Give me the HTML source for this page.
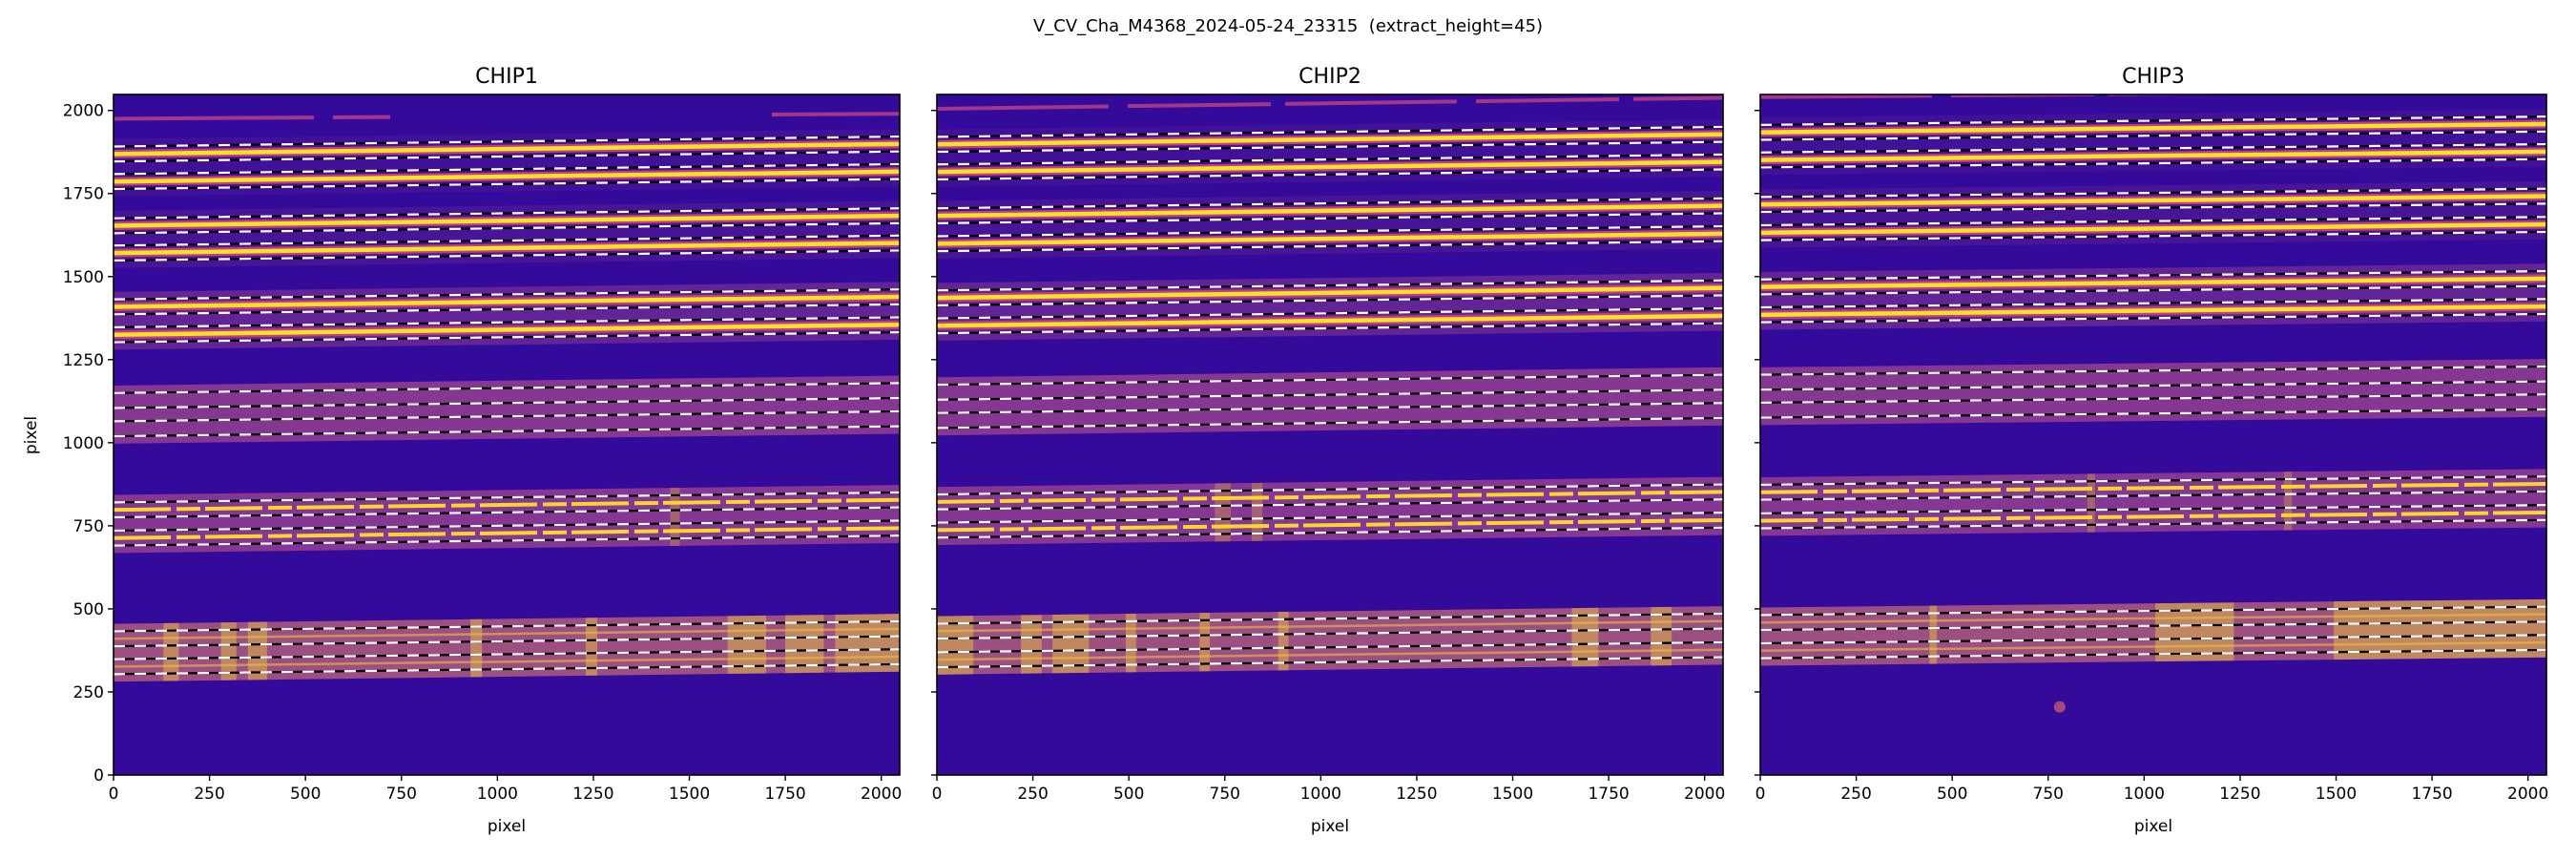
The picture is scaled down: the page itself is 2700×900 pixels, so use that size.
<!DOCTYPE html>
<html><head><meta charset="utf-8">
<style>
html,body{margin:0;padding:0;background:#fff;}
svg{display:block;font-family:"DejaVu Sans","Liberation Sans",sans-serif;}
</style></head>
<body>
<svg id="fig" width="2700" height="900" viewBox="0 0 2700 900" xmlns="http://www.w3.org/2000/svg">
<text x="1350" y="33" text-anchor="middle" font-size="18" xml:space="preserve">V_CV_Cha_M4368_2024-05-24_23315  (extract_height=45)</text>
<text x="0" y="0" transform="translate(38,456) rotate(-90)" text-anchor="middle" font-size="17">pixel</text>
<g id="chips"></g>
</svg>
<script>
// ---- data (pixel units on detector) ----
const chipNames = ["CHIP1", "CHIP2", "CHIP3"];
const xTicks = [0, 250, 500, 750, 1000, 1250, 1500, 1750, 2000];
const yTicks = [0, 250, 500, 750, 1000, 1250, 1500, 1750, 2000];
// trace centres at x=0 for each chip (two nod traces per order, 6 orders)
const traceLeft1 = [1869, 1786, 1653, 1571, 1409, 1325, 1127, 1042, 798, 713, 410, 326];
const traceLeft2 = [1898, 1815, 1683, 1599, 1436, 1352, 1152, 1067, 822, 737, 433, 347];
const traceLeft3 = [1934, 1851, 1717, 1632, 1469, 1385, 1182, 1098, 851, 765, 459, 374];
// rise of traces across the chip (x=0 -> x=2048)
const traceRise = [30, 30, 25];
const extractHeight = 45;
// trace brightness class per order: 0 none, 1 faint, 2 fragmented, 3 bright
const orderBright = [3, 3, 3, 0, 2, 1];
// sky-band strength per order
const bandStrength = [0.12, 0.18, 0.4, 0.7, 0.7, 0.8];
// bright column patches in order 6 [x0,x1]
const patches6_1 = [[130,170],[280,320],[350,400],[930,960],[1230,1260],[1600,1700],[1750,1850],[1880,2048]];
const patches6_2 = [[0,95],[219,273],[301,396],[492,519],[684,711],[889,916],[1654,1723],[1860,1914]];
const patches6_3 = [[441,460],[1029,1234],[1494,2048]];
const patches5_1 = [[1450,1475]];
const patches5_2 = [[724,765],[820,848]];
const patches5_3 = [[852,872],[1364,1385]];
// top partial trace: [yLeft, yRight]
const topTrace = [[1975, 1990], [2005, 2038], [2040, 2060]];
const redDot = [780, 205];

const traces = [traceLeft1, traceLeft2, traceLeft3];
const p6 = [patches6_1, patches6_2, patches6_3];
const p5 = [patches5_1, patches5_2, patches5_3];

const NS = "http://www.w3.org/2000/svg";
const axLeft = [119, 982, 1845], axW = 824, axTop = 99, axH = 713, N = 2048;
function mk(tag, attrs, parent){ const e=document.createElementNS(NS,tag); for(const k in attrs) e.setAttribute(k,attrs[k]); parent.appendChild(e); return e; }
const root = document.getElementById('chips');
const defs = mk('defs',{},root);

for (let c=0;c<3;c++){
  const L=axLeft[c];
  const sx = v => L + v/N*axW;
  const sy = v => axTop + axH - v/N*axH;
  const rise = traceRise[c];
  const yAt = (y0,x) => y0 + rise*x/N;
  const cp = mk('clipPath',{id:'clip'+c},defs);
  mk('rect',{x:L,y:axTop,width:axW,height:axH},cp);
  const g = mk('g',{'clip-path':'url(#clip'+c+')'},root);
  
  
  const bg = mk('rect',{x:L,y:axTop,width:axW,height:axH,fill:'#340a9a'},g);
  
  
  const tr = traces[c];
  const poly = (y0a,y0b,x0,x1)=>{
    return `${sx(x0)},${sy(yAt(y0a,x0))} ${sx(x1)},${sy(yAt(y0a,x1))} ${sx(x1)},${sy(yAt(y0b,x1))} ${sx(x0)},${sy(yAt(y0b,x0))}`;
  };
  for (let o=0;o<6;o++){
    const up=tr[2*o], lo=tr[2*o+1];
    const s=bandStrength[o];
    const band = mk('polygon',{points:poly(lo-45,up+45,0,N),fill:o===5?'#b8607a':'#a84a90','fill-opacity':s.toFixed(2)},g);
    
    
  }
  const addPatches=(list,o,col,op)=>{
    const up=tr[2*o], lo=tr[2*o+1];
    list.forEach(p=>{
      const pp=mk('polygon',{points:poly(lo-45,up+45,p[0],p[1]),fill:col,'fill-opacity':op},g);
      
      
    });
  };
  addPatches(p6[c],5,'#e6c040',0.5);
  addPatches(p5[c],4,'#d8a040',0.4);
  for (let o=0;o<6;o++){
    const b=orderBright[o]; if(!b) continue;
    for (let k=0;k<2;k++){
      const y0=tr[2*o+k];
      const attrs={x1:sx(0),y1:sy(yAt(y0,0)),x2:sx(N),y2:sy(yAt(y0,N))};
      if (b===3){
        const a=mk('line',Object.assign({stroke:'#c33d80','stroke-width':9},attrs),g);
         
        const t=mk('line',Object.assign({stroke:'#f4e324','stroke-width':4.5},attrs),g);
         
      } else if (b===2){
        const t=mk('line',Object.assign({stroke:'#f6d82a','stroke-width':4,'stroke-dasharray':'60 6 25 5'},attrs),g);
         
      } else {
        const t=mk('line',Object.assign({stroke:'#e9c040','stroke-width':2.5,'stroke-opacity':0.6},attrs),g);
         
      }
    }
  }
  const tt=mk('line',{x1:sx(0),y1:sy(topTrace[c][0]),x2:sx(N),y2:sy(topTrace[c][1]),stroke:'#d04a80','stroke-width':4,'stroke-opacity':0.7,'stroke-dasharray':c===0?'210 20 60 400':'180 20 150 15'},g);
   
  if (c===2){
    const d=mk('circle',{cx:sx(redDot[0]),cy:sy(redDot[1]),r:6,fill:'#a8487a'},g);
     
  }
  for (let i=0;i<tr.length;i++){
    for (const off of [extractHeight/2, -extractHeight/2]){
      const y0=tr[i]+off;
      const attrs={x1:sx(0),y1:sy(yAt(y0,0)),x2:sx(N),y2:sy(yAt(y0,N))};
      const bl=mk('line',Object.assign({stroke:'#000','stroke-width':2.2},attrs),g);
       
      const wl=mk('line',Object.assign({stroke:'#fff','stroke-width':2.2,'stroke-dasharray':'12 10'},attrs),g);
       
    }
  }
  const fr=mk('rect',{x:L,y:axTop,width:axW,height:axH,fill:'none',stroke:'#000','stroke-width':1.6},root);
   
  const ti=mk('text',{x:L+axW/2,y:87,'text-anchor':'middle','font-size':22},root);
  ti.textContent=chipNames[c];
   
  xTicks.forEach(v=>{
    const tk=mk('line',{x1:sx(v),y1:axTop+axH,x2:sx(v),y2:axTop+axH+6,stroke:'#000','stroke-width':1.4},root);
     
    const tl=mk('text',{x:sx(v),y:axTop+axH+25,'text-anchor':'middle','font-size':17},root);
    tl.textContent=String(v);
     
  });
  yTicks.forEach(v=>{
    const tk=mk('line',{x1:L-6,y1:sy(v),x2:L,y2:sy(v),stroke:'#000','stroke-width':1.4},root);
     
    if (c===0){
      const tl=mk('text',{x:L-10,y:sy(v)+6,'text-anchor':'end','font-size':17},root);
      tl.textContent=String(v);
       
    }
  });
  const xl=mk('text',{x:L+axW/2,y:871,'text-anchor':'middle','font-size':17},root);
  xl.textContent='pixel';
   
}
</script>
</body></html>
